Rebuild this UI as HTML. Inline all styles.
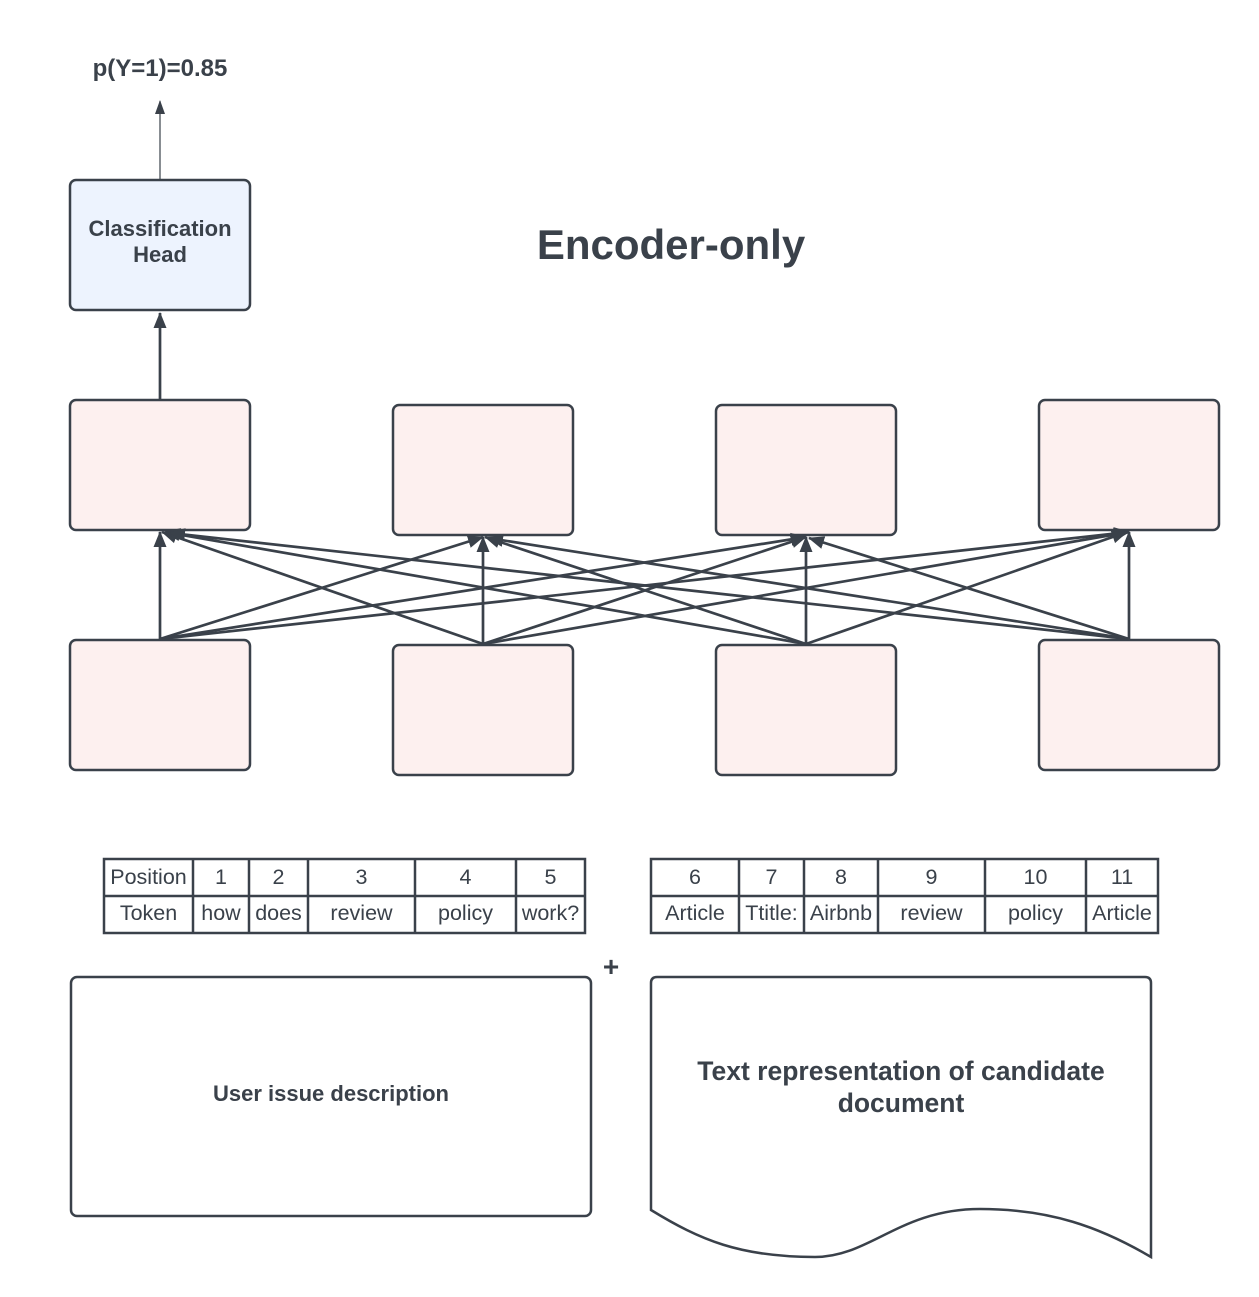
<!DOCTYPE html>
<html><head><meta charset="utf-8"><style>
html,body{margin:0;padding:0;background:#fff;}
svg{display:block;}
text{font-family:"Liberation Sans",Arial,sans-serif;fill:#3a414a;}
.b{font-weight:bold;}
</style></head><body>
<svg width="1259" height="1297" viewBox="0 0 1259 1297" xmlns="http://www.w3.org/2000/svg">
<defs>
<marker id="ah" markerUnits="userSpaceOnUse" markerWidth="16" markerHeight="16" viewBox="0 0 16 16" refX="15" refY="8" orient="auto">
<path d="M0,1.5 L16,8 L0,14.5 Z" fill="#3a414a"/>
</marker>
<marker id="ahs" markerUnits="userSpaceOnUse" markerWidth="14" markerHeight="12" viewBox="0 0 14 12" refX="13" refY="6" orient="auto">
<path d="M0,1 L14,6 L0,11 Z" fill="#3a414a"/>
</marker>
</defs>
<rect width="1259" height="1297" fill="#fff"/>

<text x="160" y="76" text-anchor="middle" font-size="24" class="b">p(Y=1)=0.85</text>
<line x1="160" y1="180" x2="160" y2="101" stroke="#3a414a" stroke-width="1.2" marker-end="url(#ahs)"/>

<rect x="70" y="180" width="180" height="130" rx="6" fill="#edf3fe" stroke="#3a414a" stroke-width="2.5"/>
<text x="160" y="236" text-anchor="middle" font-size="22" class="b">Classification</text>
<text x="160" y="262" text-anchor="middle" font-size="22" class="b">Head</text>

<text x="671" y="259" text-anchor="middle" font-size="42" class="b">Encoder-only</text>

<line x1="160" y1="400" x2="160" y2="313" stroke="#3a414a" stroke-width="2.7" marker-end="url(#ah)"/>

<g fill="#fdf0ef" stroke="#3a414a" stroke-width="2.5">
<rect x="70" y="400" width="180" height="130" rx="6"/>
<rect x="393" y="405" width="180" height="130" rx="6"/>
<rect x="716" y="405" width="180" height="130" rx="6"/>
<rect x="1039" y="400" width="180" height="130" rx="6"/>
<rect x="70" y="640" width="180" height="130" rx="6"/>
<rect x="393" y="645" width="180" height="130" rx="6"/>
<rect x="716" y="645" width="180" height="130" rx="6"/>
<rect x="1039" y="640" width="180" height="130" rx="6"/>
</g>

<g stroke="#3a414a" stroke-width="2.7" marker-end="url(#ah)">
<line x1="160" y1="639" x2="160" y2="532"/>
<line x1="160" y1="639" x2="483" y2="537"/>
<line x1="160" y1="639" x2="806" y2="537"/>
<line x1="160" y1="639" x2="1129" y2="532"/>
<line x1="483" y1="644" x2="162" y2="532"/>
<line x1="483" y1="644" x2="483" y2="537"/>
<line x1="483" y1="644" x2="806" y2="537"/>
<line x1="483" y1="644" x2="1129" y2="532"/>
<line x1="806" y1="644" x2="165" y2="532"/>
<line x1="806" y1="644" x2="485" y2="537"/>
<line x1="806" y1="644" x2="806" y2="537"/>
<line x1="806" y1="644" x2="1127" y2="532"/>
<line x1="1129" y1="639" x2="170" y2="533"/>
<line x1="1129" y1="639" x2="488" y2="538"/>
<line x1="1129" y1="639" x2="809" y2="538"/>
<line x1="1129" y1="639" x2="1129" y2="532"/>
</g>

<!-- Table 1 -->
<g stroke="#3a414a" stroke-width="2.5" fill="none">
<rect x="104" y="859" width="481" height="74"/>
<line x1="104" y1="896" x2="585" y2="896"/>
<line x1="193" y1="859" x2="193" y2="933"/>
<line x1="249" y1="859" x2="249" y2="933"/>
<line x1="308" y1="859" x2="308" y2="933"/>
<line x1="415" y1="859" x2="415" y2="933"/>
<line x1="516" y1="859" x2="516" y2="933"/>
</g>
<g font-size="21.5" text-anchor="middle">
<text x="148.5" y="884">Position</text><text x="221" y="884">1</text><text x="278.5" y="884">2</text><text x="361.5" y="884">3</text><text x="465.5" y="884">4</text><text x="550.5" y="884">5</text>
<text x="148.5" y="920">Token</text><text x="221" y="920">how</text><text x="278.5" y="920">does</text><text x="361.5" y="920">review</text><text x="465.5" y="920">policy</text><text x="550.5" y="920">work?</text>
</g>

<!-- Table 2 -->
<g stroke="#3a414a" stroke-width="2.5" fill="none">
<rect x="651" y="859" width="507" height="74"/>
<line x1="651" y1="896" x2="1158" y2="896"/>
<line x1="739" y1="859" x2="739" y2="933"/>
<line x1="804" y1="859" x2="804" y2="933"/>
<line x1="878" y1="859" x2="878" y2="933"/>
<line x1="985" y1="859" x2="985" y2="933"/>
<line x1="1086" y1="859" x2="1086" y2="933"/>
</g>
<g font-size="21.5" text-anchor="middle">
<text x="695" y="884">6</text><text x="771.5" y="884">7</text><text x="841" y="884">8</text><text x="931.5" y="884">9</text><text x="1035.5" y="884">10</text><text x="1122" y="884">11</text>
<text x="695" y="920">Article</text><text x="771.5" y="920">Ttitle:</text><text x="841" y="920">Airbnb</text><text x="931.5" y="920">review</text><text x="1035.5" y="920">policy</text><text x="1122" y="920">Article</text>
</g>

<text x="611" y="976" text-anchor="middle" font-size="28" class="b">+</text>

<rect x="71" y="977" width="520" height="239" rx="6" fill="#fff" stroke="#3a414a" stroke-width="2.5"/>
<text x="331" y="1101" text-anchor="middle" font-size="22" class="b">User issue description</text>

<path d="M657,977 L1145,977 Q1151,977 1151,983 L1151,1257 C1100,1227 1050,1209 980,1209 C900,1209 870,1257 815,1257 C740,1257 700,1240 651,1210 L651,983 Q651,977 657,977 Z" fill="#fff" stroke="#3a414a" stroke-width="2.5"/>
<text x="901" y="1080" text-anchor="middle" font-size="26.5" class="b">Text representation of candidate</text>
<text x="901" y="1112" text-anchor="middle" font-size="26.5" class="b">document</text>
</svg>
</body></html>
